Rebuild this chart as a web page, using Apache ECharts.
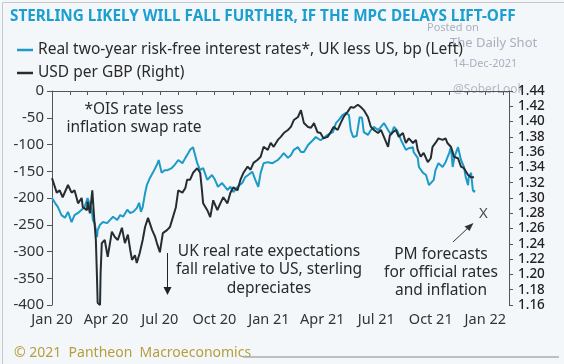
<!DOCTYPE html>
<html><head><meta charset="utf-8">
<script src="https://cdn.jsdelivr.net/npm/echarts@6/dist/echarts.min.js"></script>
<style>html,body{margin:0;padding:0;background:#f4f7fa;}#c{width:564px;height:364px;}</style>
</head><body><div id="c"></div>
<script>
const quarterLabels = ['Jan 20','Apr 20','Jul 20','Oct 20','Jan 21','Apr 21','Jul 21','Oct 21','Jan 22'];
const quarterDates = ['2020-01-01','2020-04-01','2020-07-01','2020-10-01','2021-01-01','2021-04-01','2021-07-01','2021-10-01','2022-01-01'];

const rateDates = ['2020-01-01','2020-01-06','2020-01-11','2020-01-17','2020-01-23','2020-01-28','2020-02-03','2020-02-08','2020-02-14','2020-02-20','2020-02-25','2020-03-01','2020-03-05','2020-03-08','2020-03-10','2020-03-13','2020-03-17','2020-03-18','2020-03-22','2020-03-27','2020-04-03','2020-04-08','2020-04-13','2020-04-20','2020-04-25','2020-04-30','2020-05-07','2020-05-12','2020-05-17','2020-05-23','2020-05-27','2020-05-30','2020-06-02','2020-06-06','2020-06-09','2020-06-14','2020-06-19','2020-06-26','2020-06-29','2020-07-04','2020-07-09','2020-07-14','2020-07-21','2020-07-26','2020-08-01','2020-08-08','2020-08-13','2020-08-18','2020-08-21','2020-08-26','2020-09-02','2020-09-07','2020-09-12','2020-09-19','2020-09-27','2020-10-02','2020-10-07','2020-10-14','2020-10-23','2020-10-28','2020-11-02','2020-11-09','2020-11-17','2020-11-22','2020-11-27','2020-12-04','2020-12-09','2020-12-14','2020-12-18','2020-12-23','2020-12-30','2021-01-07','2021-01-16','2021-01-21','2021-01-26','2021-02-02','2021-02-07','2021-02-12','2021-02-19','2021-02-24','2021-03-01','2021-03-08','2021-03-16','2021-03-21','2021-03-29','2021-04-03','2021-04-10','2021-04-19','2021-04-24','2021-04-29','2021-05-05','2021-05-11','2021-05-16','2021-05-19','2021-05-23','2021-05-29','2021-06-03','2021-06-07','2021-06-10','2021-06-17','2021-06-22','2021-06-27','2021-07-04','2021-07-09','2021-07-14','2021-07-21','2021-07-26','2021-07-31','2021-08-05','2021-08-12','2021-08-15','2021-08-20','2021-08-25','2021-09-01','2021-09-02','2021-09-09','2021-09-11','2021-09-18','2021-09-23','2021-09-28','2021-10-01','2021-10-06','2021-10-09','2021-10-14','2021-10-21','2021-10-26','2021-11-01','2021-11-04','2021-11-07','2021-11-10','2021-11-16','2021-11-17','2021-11-21','2021-11-26','2021-11-29','2021-12-03','2021-12-04','2021-12-08','2021-12-11','2021-12-13','2021-12-14'];
const rateValues = [-200,-209,-217,-232,-237,-226,-245,-232,-228,-222,-217,-200,-213,-222,-241,-247,-273,-260,-250,-245,-247,-241,-235,-241,-232,-235,-222,-228,-226,-219,-209,-226,-217,-191,-176,-163,-153,-138,-129,-153,-148,-148,-144,-138,-129,-135,-125,-116,-110,-105,-135,-148,-144,-166,-157,-166,-179,-172,-185,-179,-189,-179,-172,-161,-157,-151,-166,-179,-153,-135,-133,-135,-129,-123,-116,-125,-120,-110,-105,-114,-114,-101,-92,-86,-92,-88,-82,-77,-60,-54,-45,-41,-45,-73,-86,-84,-49,-50,-77,-82,-73,-67,-73,-67,-60,-73,-82,-67,-73,-92,-95,-110,-107,-105,-114,-125,-142,-153,-157,-176,-179,-166,-148,-135,-142,-133,-116,-105,-142,-123,-105,-110,-129,-142,-161,-176,-161,-153,-185,-189,-185];

const gbpDates = ['2020-01-01','2020-01-09','2020-01-14','2020-01-19','2020-01-28','2020-02-03','2020-02-08','2020-02-14','2020-02-20','2020-02-22','2020-02-29','2020-03-01','2020-03-05','2020-03-09','2020-03-12','2020-03-15','2020-03-17','2020-03-18','2020-03-22','2020-03-23','2020-03-25','2020-03-30','2020-04-04','2020-04-11','2020-04-16','2020-04-21','2020-04-28','2020-05-03','2020-05-08','2020-05-12','2020-05-15','2020-05-20','2020-05-23','2020-05-28','2020-06-02','2020-06-06','2020-06-11','2020-06-18','2020-06-23','2020-06-26','2020-07-01','2020-07-06','2020-07-13','2020-07-18','2020-07-23','2020-07-28','2020-08-01','2020-08-08','2020-08-13','2020-08-16','2020-08-21','2020-08-26','2020-09-02','2020-09-07','2020-09-10','2020-09-12','2020-09-19','2020-09-24','2020-09-27','2020-09-29','2020-10-06','2020-10-11','2020-10-16','2020-10-23','2020-10-28','2020-11-02','2020-11-09','2020-11-14','2020-11-19','2020-11-26','2020-12-01','2020-12-06','2020-12-13','2020-12-18','2020-12-23','2020-12-30','2021-01-04','2021-01-09','2021-01-16','2021-01-21','2021-01-26','2021-02-02','2021-02-07','2021-02-12','2021-02-19','2021-02-24','2021-02-27','2021-03-01','2021-03-08','2021-03-13','2021-03-18','2021-03-24','2021-03-29','2021-04-03','2021-04-10','2021-04-15','2021-04-20','2021-04-27','2021-05-02','2021-05-07','2021-05-14','2021-05-19','2021-05-24','2021-05-31','2021-06-05','2021-06-10','2021-06-17','2021-06-22','2021-06-27','2021-07-04','2021-07-09','2021-07-14','2021-07-21','2021-07-24','2021-07-29','2021-08-03','2021-08-08','2021-08-15','2021-08-20','2021-08-25','2021-09-01','2021-09-06','2021-09-09','2021-09-14','2021-09-19','2021-09-26','2021-10-01','2021-10-04','2021-10-09','2021-10-14','2021-10-21','2021-10-26','2021-10-29','2021-11-04','2021-11-07','2021-11-09','2021-11-16','2021-11-21','2021-11-26','2021-12-03','2021-12-08','2021-12-13'];
const gbpValues = [1.326,1.307,1.310,1.301,1.317,1.307,1.310,1.293,1.300,1.288,1.284,1.295,1.280,1.310,1.275,1.245,1.193,1.163,1.160,1.202,1.241,1.245,1.223,1.256,1.249,1.245,1.261,1.241,1.252,1.232,1.219,1.225,1.215,1.228,1.245,1.262,1.274,1.258,1.249,1.241,1.229,1.254,1.258,1.262,1.275,1.288,1.310,1.307,1.313,1.324,1.324,1.333,1.339,1.333,1.310,1.293,1.284,1.275,1.288,1.297,1.284,1.293,1.301,1.293,1.307,1.314,1.310,1.324,1.333,1.341,1.337,1.346,1.350,1.354,1.367,1.363,1.372,1.367,1.376,1.380,1.385,1.389,1.393,1.402,1.406,1.415,1.413,1.398,1.393,1.392,1.398,1.386,1.385,1.378,1.380,1.386,1.393,1.389,1.398,1.406,1.413,1.419,1.418,1.422,1.419,1.415,1.406,1.393,1.389,1.385,1.389,1.380,1.367,1.382,1.386,1.389,1.380,1.385,1.372,1.378,1.372,1.376,1.363,1.354,1.359,1.347,1.352,1.367,1.372,1.378,1.376,1.378,1.372,1.367,1.360,1.354,1.352,1.341,1.339,1.330,1.327,1.327];

const forecastDate = '2021-12-29';
const forecastValue = 1.28;

const DAY = 86400000;
const ORIGIN = Date.UTC(2020,0,1);
function dayNum(s){const p=s.split('-').map(Number);return Math.round((Date.UTC(p[0],p[1]-1,p[2])-ORIGIN)/DAY);}
const quarterDays = quarterDates.map(dayNum);
const monthTicks = [];
for(let i=0;i<=25;i++){monthTicks.push(Math.round((Date.UTC(2020,i,1)-ORIGIN)/DAY));}

const FONT = 'Noto Sans';
const BLUE = '#1c9ac8';
const DARK = '#252d32';
const TXT = '#2a2a2a';

const chart = echarts.init(document.getElementById('c'), null, {renderer:'canvas'});
chart.setOption({
  backgroundColor:'#f4f7fa',
  animation:false,
  textStyle:{fontFamily:FONT},
  title:{text:'STERLING LIKELY WILL FALL FURTHER, IF THE MPC DELAYS LIFT-OFF',left:5,top:4,
    textStyle:{fontFamily:FONT,fontSize:15.3,fontWeight:'bold',color:'#1a9fd0'}},
  legend:{orient:'vertical',left:12,top:35,itemGap:3,itemWidth:16,itemHeight:2.5,icon:'rect',
    textStyle:{fontFamily:FONT,fontSize:15.5,color:TXT,lineHeight:20},
    data:['Real two-year risk-free interest rates*, UK less US, bp (Left)','USD per GBP (Right)']},
  grid:{left:52,right:55,top:91,bottom:59},
  xAxis:{type:'value',min:0,max:dayNum('2022-02-10'),
    axisLine:{lineStyle:{color:'#555',width:1}},
    axisTick:{show:true,length:4,lineStyle:{color:'#555'},customValues:monthTicks},
    splitLine:{show:false},
    axisLabel:{customValues:quarterDays,fontFamily:FONT,fontSize:14.5,color:'#333',margin:7,
      formatter:function(v){const i=quarterDays.indexOf(v);return i>=0?quarterLabels[i]:'';}}},
  yAxis:[
    {type:'value',min:-400,max:0,interval:50,position:'left',
      axisLine:{show:true,lineStyle:{color:'#555'}},
      axisTick:{show:true,length:5,lineStyle:{color:'#555'}},
      splitLine:{show:false},
      axisLabel:{fontFamily:FONT,fontSize:15,color:'#333',margin:8}},
    {type:'value',min:1.16,max:1.44,interval:0.02,position:'right',
      axisLine:{show:true,lineStyle:{color:'#555'}},
      axisTick:{show:true,length:4,lineStyle:{color:'#555'}},
      splitLine:{show:false},
      axisLabel:{fontFamily:FONT,fontSize:13.5,fontWeight:500,color:'#222',margin:9,
        formatter:function(v){return v.toFixed(2);}}}
  ],
  series:[
    {name:'Real two-year risk-free interest rates*, UK less US, bp (Left)',type:'line',yAxisIndex:0,
      showSymbol:false,symbol:'none',lineStyle:{color:BLUE,width:2},itemStyle:{color:BLUE},
      data:rateDates.map((d,i)=>[dayNum(d),rateValues[i]])},
    {name:'USD per GBP (Right)',type:'line',yAxisIndex:1,
      showSymbol:false,symbol:'none',lineStyle:{color:DARK,width:2},itemStyle:{color:DARK},
      data:gbpDates.map((d,i)=>[dayNum(d),gbpValues[i]])},
    {name:'forecast',type:'scatter',yAxisIndex:1,symbolSize:1,itemStyle:{color:'rgba(0,0,0,0)'},
      label:{show:true,position:'inside',formatter:'X',fontFamily:FONT,fontSize:15,color:'#222'},
      data:[[dayNum(forecastDate),forecastValue]]}
  ],
  graphic:[
    {type:'rect',left:0,top:0,shape:{width:563,height:363},style:{fill:'none',stroke:'#c4c8cc',lineWidth:1},silent:true},
    {type:'text',x:427,y:22,style:{text:'Posted on',font:'11px "Noto Sans"',fill:'#a9afbf'}},
    {type:'text',x:450,y:37,style:{text:'The Daily Shot',font:'13px "Noto Sans"',fill:'#a9afbf'},z:-1},
    {type:'text',x:453,y:58,style:{text:'14-Dec-2021',font:'11px "Noto Sans"',fill:'#a9afbf'}},
    {type:'text',x:453,y:84,style:{text:'@SoberLook',font:'12px "Noto Sans"',fill:'#b4b9c6'}},
    {type:'text',x:134,y:119,style:{text:'*OIS rate less\ninflation swap rate',font:'15.5px "Noto Sans"',fill:TXT,align:'center',verticalAlign:'middle',lineHeight:18}},
    {type:'text',x:269,y:270,style:{text:'UK real rate expectations\nfall relative to US, sterling\ndepreciates',font:'15.5px "Noto Sans"',fill:TXT,align:'center',verticalAlign:'middle',lineHeight:18.5}},
    {type:'text',x:441,y:273,style:{text:'PM forecasts\nfor official rates\nand inflation',font:'15.5px "Noto Sans"',fill:TXT,align:'center',verticalAlign:'middle',lineHeight:18}},
    {type:'line',shape:{x1:167.5,y1:253,x2:167.5,y2:289},style:{stroke:'#222',lineWidth:1}},
    {type:'polygon',shape:{points:[[163.5,287],[171.5,287],[167.5,295]]},style:{fill:'#222'}},
    {type:'line',shape:{x1:453,y1:242,x2:469,y2:227},style:{stroke:'#333',lineWidth:1}},
    {type:'polygon',shape:{points:[[473.5,223],[464.5,226.5],[469.5,231]]},style:{fill:'#333'}},
    {type:'text',x:14,y:353,style:{text:'© 2021  Pantheon  Macroeconomics',font:'14px "Noto Sans"',fill:'#b59e3c',verticalAlign:'middle'}},
    {type:'line',shape:{x1:243,y1:357,x2:559,y2:357},style:{stroke:'#a8aeb3',lineWidth:1.5}}
  ]
});
</script></body></html>
